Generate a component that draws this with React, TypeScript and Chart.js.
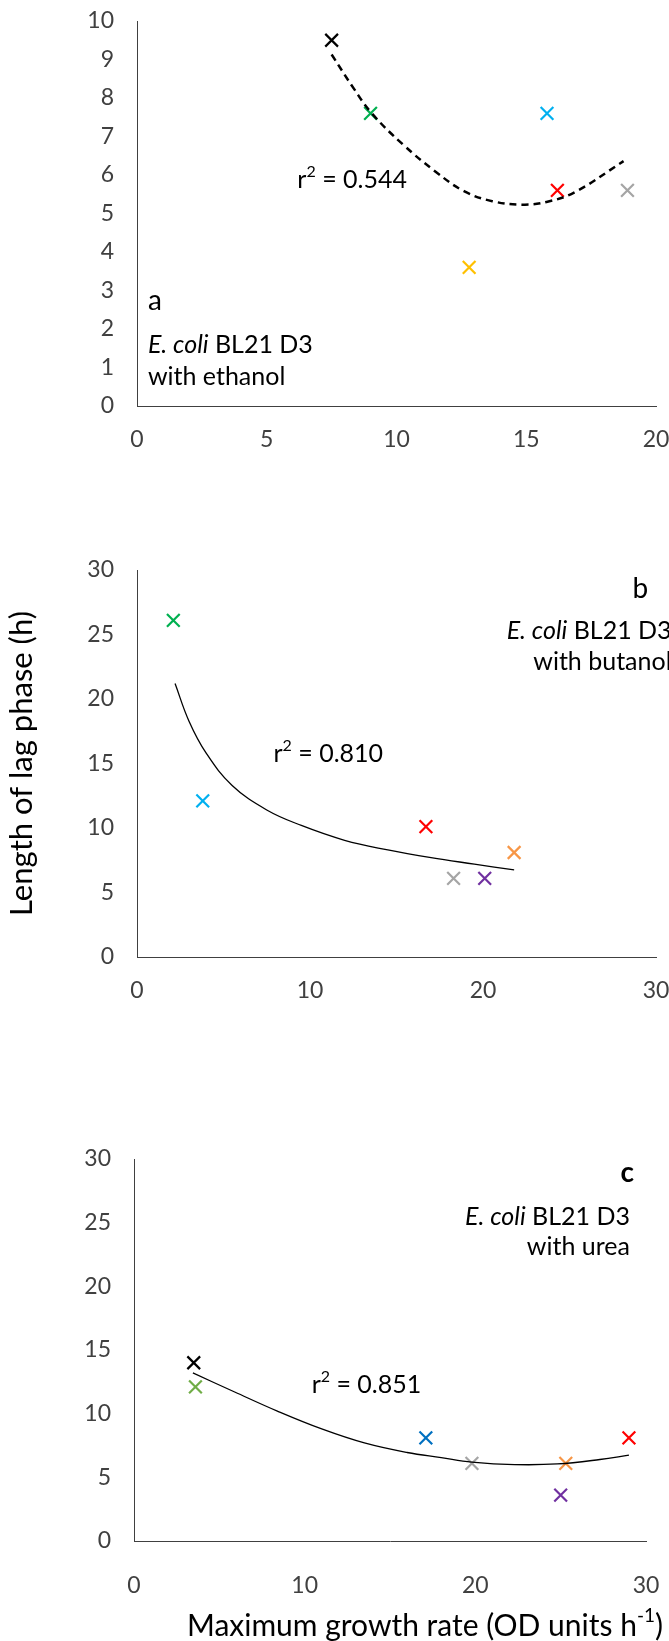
import React, { useEffect, useRef } from 'react';
import { Chart, registerables } from 'chart.js';
Chart.register(...registerables);

const FONT = 'Lato, "Open Sans", sans-serif';
const CW = 720; // canvas width (clipped to 669 by the wrapper)

// ---------- Panel a: E. coli BL21 D3 with ethanol ----------
const aX = [7.5, 9.0, 15.8, 16.2, 18.9, 12.8];
const aY = [9.5, 7.6, 7.6, 5.6, 5.6, 3.6];
const aColors = ['#000000', '#00B050', '#00B0F0', '#FF0000', '#A5A5A5', '#FFC000'];
const aTrendX = [7.5, 8.35, 9.05, 10.27, 11.52, 12.6, 13.69, 14.86, 15.78, 16.86, 18.75];
const aTrendY = [9.13, 8.25, 7.6, 6.78, 6.08, 5.58, 5.32, 5.23, 5.3, 5.55, 6.36];
const aXTicks = [0, 5, 10, 15, 20];
const aYTicks = [0, 1, 2, 3, 4, 5, 6, 7, 8, 9, 10];
const aR2 = '0.544';

// ---------- Panel b: E. coli BL21 D3 with butanol ----------
const bX = [2.1, 3.8, 16.7, 21.8, 18.3, 20.1];
const bY = [26.1, 12.1, 10.1, 8.1, 6.1, 6.1];
const bColors = ['#00B050', '#00B0F0', '#FF0000', '#F79646', '#A5A5A5', '#7030A0'];
const bTrendX = [2.2, 3.0, 4.0, 5.5, 7.5, 9.5, 12.0, 14.5, 17.0, 19.5, 21.8];
const bTrendY = [21.2, 18.3, 15.8, 13.3, 11.4, 10.2, 9.05, 8.3, 7.7, 7.2, 6.75];
const bXTicks = [0, 10, 20, 30];
const bYTicks = [0, 5, 10, 15, 20, 25, 30];
const bR2 = '0.810';

// ---------- Panel c: E. coli BL21 D3 with urea ----------
const cX = [3.5, 3.6, 17.1, 19.8, 25.3, 25.0, 29.0];
const cY = [14.0, 12.1, 8.1, 6.1, 6.1, 3.6, 8.1];
const cColors = ['#000000', '#70AD47', '#0070C0', '#A5A5A5', '#F79646', '#7030A0', '#FF0000'];
const cTrendX = [3.45, 5.9, 8.4, 11.0, 13.5, 16.0, 18.0, 19.8, 22.3, 24.8, 27.3, 29.0];
const cTrendY = [13.2, 11.7, 10.2, 8.8, 7.7, 6.95, 6.55, 6.2, 6.0, 6.05, 6.4, 6.75];
const cXTicks = [0, 10, 20, 30];
const cYTicks = [0, 5, 10, 15, 20, 25, 30];
const cR2 = '0.851';

const yTitleText = 'Length of lag phase (h)';
const xTitleMain = 'Maximum growth rate (OD units h';
const xTitleSup = '-1';
const xTitleEnd = ')';

type Seg = { t: string; italic?: boolean; sup?: boolean; bold?: boolean };
type TextItem = {
  segs: Seg[];
  x: number; // data coords
  y: number;
  align: 'left' | 'right' | 'center';
  size: number;
};

function segFont(s: Seg, size: number) {
  const sz = s.sup ? Math.round(size * 0.62) : size;
  return `${s.italic ? 'italic ' : ''}${s.bold ? 'bold ' : ''}${sz}px ${FONT}`;
}

function drawRich(ctx: CanvasRenderingContext2D, segs: Seg[], x: number, y: number, align: string, size: number) {
  let total = 0;
  const widths = segs.map((s) => {
    ctx.font = segFont(s, size);
    const w = ctx.measureText(s.t).width;
    total += w;
    return w;
  });
  let cx = align === 'left' ? x : align === 'right' ? x - total : x - total / 2;
  ctx.textAlign = 'left';
  ctx.textBaseline = 'middle';
  segs.forEach((s, i) => {
    ctx.font = segFont(s, size);
    ctx.fillText(s.t, cx, s.sup ? y - size * 0.33 : y);
    cx += widths[i];
  });
}

type PanelProps = {
  top: number;
  height: number;
  yWidth: number;
  padTop: number;
  padRight: number;
  xs: number[];
  ys: number[];
  colors: string[];
  trendX: number[];
  trendY: number[];
  dashed: boolean;
  xTicks: number[];
  yTicks: number[];
  texts: TextItem[];
  yTitle?: string;
  xTitle?: boolean;
  xAxisH: number;
  xTickPad: number;
};

function Panel(p: PanelProps) {
  const ref = useRef<HTMLCanvasElement | null>(null);
  useEffect(() => {
    if (!ref.current) return;
    const xMax = p.xTicks[p.xTicks.length - 1];
    const yMax = p.yTicks[p.yTicks.length - 1];
    const xStep = p.xTicks[1] - p.xTicks[0];
    const yStep = p.yTicks[1] - p.yTicks[0];
    const textPlugin = {
      id: 'texts',
      afterDraw(chart: any) {
        const ctx = chart.ctx as CanvasRenderingContext2D;
        const sx = chart.scales.x;
        const sy = chart.scales.y;
        ctx.save();
        ctx.fillStyle = '#000000';
        p.texts.forEach((t) => {
          drawRich(ctx, t.segs, sx.getPixelForValue(t.x), sy.getPixelForValue(t.y), t.align, t.size);
        });
        if (p.xTitle) {
          drawRich(
            ctx,
            [{ t: xTitleMain }, { t: xTitleSup, sup: true }, { t: xTitleEnd }],
            425,
            chart.height - 15,
            'center',
            30
          );
        }
        ctx.restore();
      },
    };
    const chart = new Chart(ref.current, {
      type: 'scatter',
      data: {
        datasets: [
          {
            data: p.trendX.map((x, i) => ({ x, y: p.trendY[i] })),
            showLine: true,
            borderColor: '#000000',
            borderWidth: p.dashed ? 2.5 : 1.3,
            borderDash: p.dashed ? [7, 5] : [],
            pointRadius: 0,
            tension: 0.4,
            order: 0,
          } as any,
          {
            data: p.xs.map((x, i) => ({ x, y: p.ys[i] })),
            pointStyle: 'crossRot',
            pointRadius: 9,
            pointBorderWidth: 2.2,
            borderColor: p.colors,
            pointBorderColor: p.colors,
            backgroundColor: p.colors,
            order: 1,
          } as any,
        ],
      },
      options: {
        animation: false,
        responsive: false,
        maintainAspectRatio: false,
        events: [],
        layout: { padding: { top: p.padTop, right: p.padRight, left: 0, bottom: 0 } },
        plugins: { legend: { display: false }, tooltip: { enabled: false } },
        scales: {
          x: {
            type: 'linear',
            min: 0,
            max: xMax,
            border: { display: true, color: '#404040', width: 1 },
            grid: { display: false, drawTicks: false },
            ticks: {
              stepSize: xStep,
              padding: p.xTickPad,
              color: '#404040',
              font: { family: FONT, size: 23 },
              maxRotation: 0,
              autoSkip: false,
            },
            afterFit: (s: any) => {
              s.height = p.xAxisH;
            },
          },
          y: {
            type: 'linear',
            min: 0,
            max: yMax,
            border: { display: true, color: '#404040', width: 1 },
            grid: { display: false, drawTicks: false },
            ticks: {
              stepSize: yStep,
              padding: 23,
              color: '#404040',
              font: { family: FONT, size: 23 },
              autoSkip: false,
            },
            title: p.yTitle
              ? {
                  display: true,
                  text: p.yTitle,
                  color: '#000000',
                  font: { family: FONT, size: 31 },
                  padding: { top: 3, bottom: 0 },
                }
              : { display: false },
            afterFit: (s: any) => {
              s.width = p.yWidth;
            },
          },
        },
      } as any,
      plugins: [textPlugin],
    });
    return () => chart.destroy();
  }, []);
  return (
    <canvas
      ref={ref}
      width={CW}
      height={p.height}
      style={{ position: 'absolute', left: 0, top: p.top, width: CW, height: p.height }}
    />
  );
}

const ecoli: Seg[] = [{ t: 'E. coli', italic: true }, { t: ' BL21 D3' }];

export default function App() {
  return (
    <div style={{ position: 'absolute', left: 0, top: 0, width: 669, height: 1641, background: '#ffffff', overflow: 'hidden' }}>
      <Panel
        top={-20}
        height={500}
        yWidth={137}
        padTop={41}
        padRight={CW - 656}
        xAxisH={74}
        xTickPad={20}
        xs={aX}
        ys={aY}
        colors={aColors}
        trendX={aTrendX}
        trendY={aTrendY}
        dashed={true}
        xTicks={aXTicks}
        yTicks={aYTicks}
        texts={[
          { segs: [{ t: 'r' }, { t: '2', sup: true }, { t: ' = ' + aR2 }], x: 6.18, y: 5.86, align: 'left', size: 25 },
          { segs: [{ t: 'a' }], x: 0.42, y: 2.72, align: 'left', size: 28 },
          { segs: ecoli, x: 0.42, y: 1.59, align: 'left', size: 25 },
          { segs: [{ t: 'with ethanol' }], x: 0.42, y: 0.76, align: 'left', size: 25 },
        ]}
      />
      <Panel
        top={500}
        height={520}
        yWidth={137}
        padTop={70}
        padRight={CW - 656}
        xAxisH={63}
        xTickPad={20}
        xs={bX}
        ys={bY}
        colors={bColors}
        trendX={bTrendX}
        trendY={bTrendY}
        dashed={false}
        xTicks={bXTicks}
        yTicks={bYTicks}
        yTitle={yTitleText}
        texts={[
          { segs: [{ t: 'r' }, { t: '2', sup: true }, { t: ' = ' + bR2 }], x: 7.89, y: 15.75, align: 'left', size: 25 },
          { segs: [{ t: 'b' }], x: 29.1, y: 28.5, align: 'center', size: 28 },
          { segs: ecoli, x: 30.9, y: 25.3, align: 'right', size: 25 },
          { segs: [{ t: 'with butanol' }], x: 30.9, y: 22.85, align: 'right', size: 25 },
        ]}
      />
      <Panel
        top={1080}
        height={561}
        yWidth={134}
        padTop={79}
        padRight={CW - 646}
        xAxisH={100}
        xTickPad={31}
        xs={cX}
        ys={cY}
        colors={cColors}
        trendX={cTrendX}
        trendY={cTrendY}
        dashed={false}
        xTicks={cXTicks}
        yTicks={cYTicks}
        xTitle={true}
        texts={[
          { segs: [{ t: 'r' }, { t: '2', sup: true }, { t: ' = ' + cR2 }], x: 10.41, y: 12.23, align: 'left', size: 25 },
          { segs: [{ t: 'c', bold: true }], x: 28.9, y: 28.9, align: 'center', size: 28 },
          { segs: ecoli, x: 29.06, y: 25.46, align: 'right', size: 25 },
          { segs: [{ t: 'with urea' }], x: 29.06, y: 23.07, align: 'right', size: 25 },
        ]}
      />
    </div>
  );
}
